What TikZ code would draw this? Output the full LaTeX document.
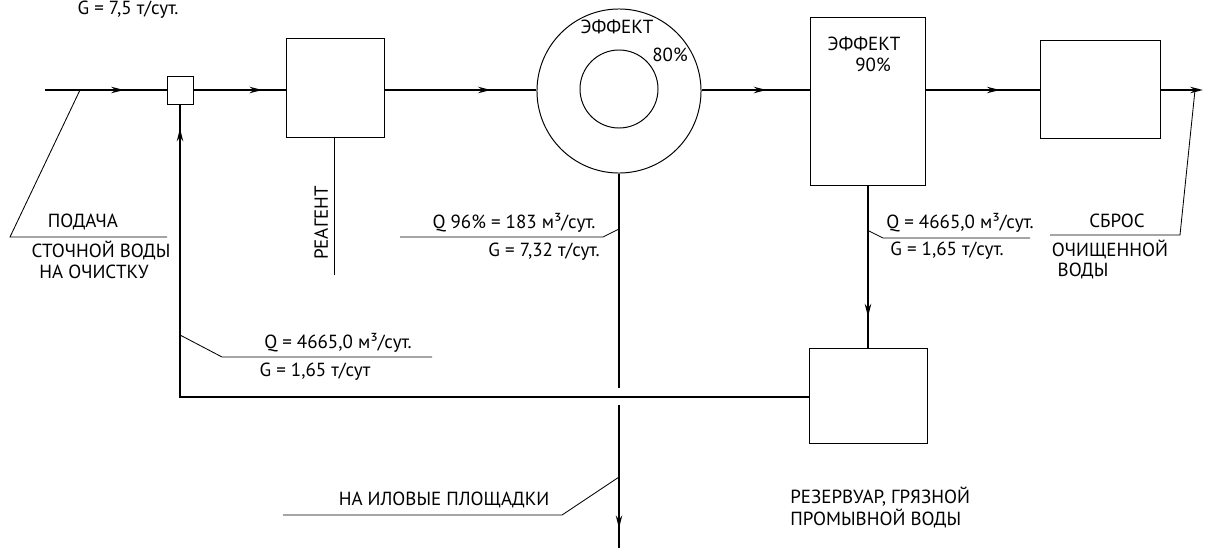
\documentclass[tikz,border=0pt]{standalone}
\usepackage{fontspec}
\setmainfont{PT Sans}
\usepackage{tikz}
\usetikzlibrary{positioning, arrows.meta, calc, decorations.markings}

\begin{document}
\begin{tikzpicture}[
				x=0.025cm, y=-0.025cm,
				% --- ESTILOS ---
				unitbox/.style={
					rectangle, draw, line width=0.7pt, inner sep=0pt
				},
				ringnode/.style={
					circle, draw, line width=0.7pt, inner sep=0pt
				},
				flow/.style={
					draw, line width=2pt
				},
				midarrow/.style={
					postaction={decorate, decoration={markings,
						mark=at position #1 with {\arrow{Stealth[length=9pt, width=4.5pt]}}}}
				},
				leader/.style={
					draw, line width=0.6pt
				},
				note/.style={
					font=\fontsize{13.5}{15.5}\selectfont, inner sep=0pt
				}
				]
				\useasboundingbox (0,0) rectangle (1205,547);
				
				% ==========================================
				% 1. Aparatos
				% ==========================================
				\node [unitbox, minimum width=0.65cm, minimum height=0.7cm] (mixer) at (180,90) {};
				\node [unitbox, minimum width=2.425cm, minimum height=2.45cm] (reagbox) at (335.5,88) {};
				\node [ringnode, minimum size=4.1cm] (clarifier) at (619,91) {};
				\node [ringnode, minimum size=1.95cm] (inner) at (619,89) {};
				\node [unitbox, minimum width=2.875cm, minimum height=4.175cm] (filter) at (868,101.5) {};
				\node [unitbox, minimum width=2.95cm, minimum height=2.375cm] (tank) at (868,395.5) {};
				\node [unitbox, minimum width=3.0cm, minimum height=2.425cm] (lastbox) at (1100,89.5) {};
				
				\node [note] (eff1) at (617,27) {ЭФФЕКТ};
				\node [note] (eff1v) at (670,55) {80\%};
				\node [note] (eff2) at (864,44) {ЭФФЕКТ};
				\node [note] (eff2v) at (873,65) {90\%};
				
				% ==========================================
				% 2. Linea principal
				% ==========================================
				\coordinate (in_start) at (45,90);
				\coordinate (out_end) at (1203,90);
				\draw [flow, midarrow=0.65] (in_start) -- (mixer);
				\draw [flow, midarrow=0.74] (mixer) -- (reagbox.west |- mixer);
				\draw [flow, midarrow=0.7] (reagbox.east |- mixer) -- (clarifier.west |- mixer);
				\draw [flow, midarrow=0.6] (clarifier.east |- mixer) -- (filter.west |- mixer);
				\draw [flow, midarrow=0.65] (filter.east |- mixer) -- (lastbox.west |- mixer);
				\draw [flow, -{Stealth[length=9pt, width=4.5pt]}] (lastbox.east |- mixer) -- (out_end);
				
				% reactivo
				\coordinate (reag_end) at (334,275);
				\draw [leader] (reagbox.south -| reag_end) -- (reag_end);
				\node [note, rotate=90] (reagent) at (321,223) {РЕАГЕНТ};
				
				% ==========================================
				% 3. Lodo y agua de lavado
				% ==========================================
				\coordinate (gap_top) at (619,388);
				\coordinate (gap_bot) at (619,405);
				\coordinate (sludge_end) at (619,550);
				\draw [flow] (clarifier.south) -- (gap_top);
				\draw [flow, midarrow=0.85] (gap_bot) -- (sludge_end);
				
				\draw [flow, midarrow=0.81] (filter.south) -- (tank.north);
				\draw [flow, midarrow=0.974] (tank.west |- 0,397) -| (mixer.south);
				
				% ==========================================
				% 4. Rotulos
				% ==========================================
				\node [note, anchor=north] (g_in) at (128,1) {G = 7,5 т/сут.};
				
				% entrada
				\draw [leader] (80,90) -- (10,237) -- (167,237);
				\node [note] (feed1) at (83,222) {ПОДАЧА};
				\node [note] (feed2) at (101,250) {СТОЧНОЙ ВОДЫ};
				\node [note] (feed3) at (94,272) {НА ОЧИСТКУ};
				
				% decantador
				\draw [leader] (619,229) -- (603,237) -- (400,237);
				\node [note] (q_clar) at (514,223) {Q 96\% = 183 м³/сут.};
				\node [note] (g_clar) at (544,252) {G = 7,32 т/сут.};
				
				% filtro
				\draw [leader] (867,230) -- (883,238) -- (1030,238);
				\node [note] (q_filt) at (960,223) {Q = 4665,0 м³/сут.};
				\node [note] (g_filt) at (947,251) {G = 1,65 т/сут.};
				
				% salida
				\draw [leader] (1195,90) -- (1180,235) -- (1050,235);
				\node [note] (out1) at (1117,221) {СБРОС};
				\node [note] (out2) at (1110,249) {ОЧИЩЕННОЙ};
				\node [note] (out3) at (1083,271) {ВОДЫ};
				
				% retorno
				\draw [leader] (180,335) -- (222,357) -- (432,357);
				\node [note] (q_ret) at (338,343) {Q = 4665,0 м³/сут.};
				\node [note] (g_ret) at (315,372) {G = 1,65 т/сут};
				
				% lodo
				\draw [leader] (619,477) -- (562,515) -- (283,515);
				\node [note] (sludge) at (444,500) {НА ИЛОВЫЕ ПЛОЩАДКИ};
				
				% deposito
				\node [note, align=left, anchor=north west] (tanklbl) at (790,487) {РЕЗЕРВУАР, ГРЯЗНОЙ\\ПРОМЫВНОЙ ВОДЫ};
			\end{tikzpicture}
\end{document}
